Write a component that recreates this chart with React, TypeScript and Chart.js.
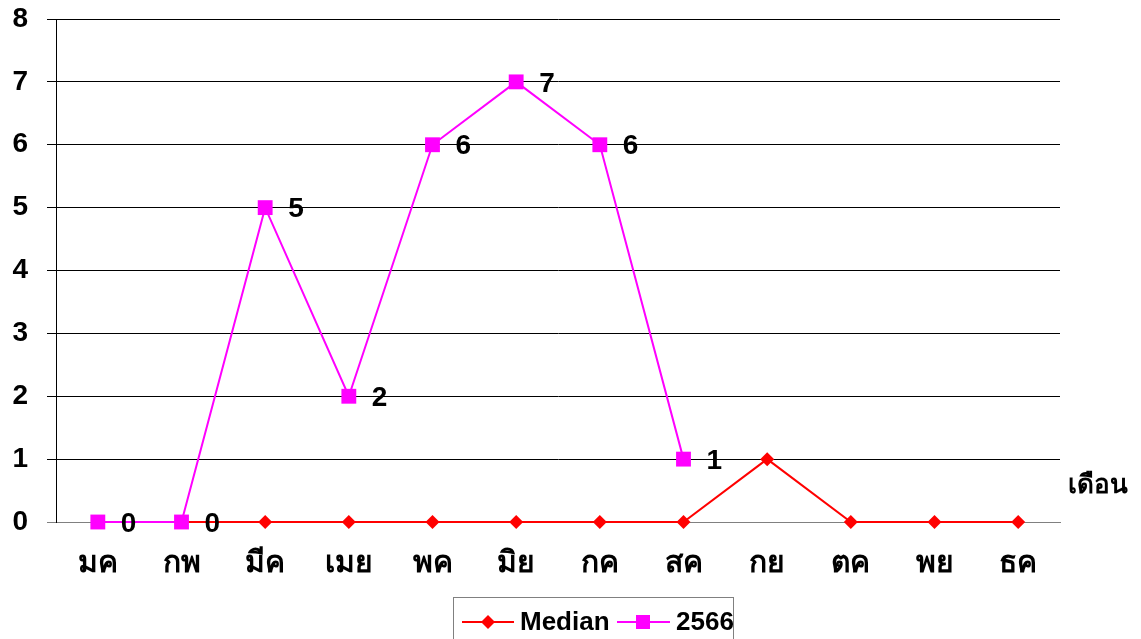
import React, { useEffect, useRef } from "react";
import { Chart, registerables } from "chart.js";

Chart.register(...registerables);

const months = ["มค", "กพ", "มีค", "เมย", "พค", "มิย", "กค", "สค", "กย", "ตค", "พย", "ธค"];
const medianValues = [0, 0, 0, 0, 0, 0, 0, 0, 1, 0, 0, 0];
const values2566: (number | null)[] = [0, 0, 5, 2, 6, 7, 6, 1, null, null, null, null];
const seriesNames = ["Median", "2566"];
const xAxisTitle = "เดือน";
const yMin = 0;
const yMax = 8;
const yStep = 1;

const FONT = "'Liberation Sans', Arial, 'DejaVu Sans', sans-serif";

const extrasPlugin = {
  id: "extras",
  afterDatasetsDraw(chart: any) {
    const ctx = chart.ctx;
    ctx.save();
    // data labels for 2566
    const meta = chart.getDatasetMeta(1);
    ctx.font = `bold 28px ${FONT}`;
    ctx.fillStyle = "#000";
    ctx.textAlign = "left";
    ctx.textBaseline = "middle";
    meta.data.forEach((pt: any, i: number) => {
      const v = values2566[i];
      if (v == null) return;
      ctx.fillText(String(v), pt.x + 23, pt.y + 2);
    });
    // axis title
    ctx.font = `bold 26px ${FONT}`;
    ctx.fillText(xAxisTitle, chart.chartArea.right + 8, chart.chartArea.bottom - 36);

    // legend
    const lx = 453.5;
    const ly = 597.5;
    ctx.strokeStyle = "#808080";
    ctx.lineWidth = 1;
    ctx.strokeRect(lx, ly, 280, 60);
    const cy = 622;
    // Median
    ctx.strokeStyle = "#FF0000";
    ctx.lineWidth = 2;
    ctx.beginPath();
    ctx.moveTo(462, cy);
    ctx.lineTo(514, cy);
    ctx.stroke();
    ctx.fillStyle = "#FF0000";
    ctx.beginPath();
    ctx.moveTo(488, cy - 7);
    ctx.lineTo(495, cy);
    ctx.lineTo(488, cy + 7);
    ctx.lineTo(481, cy);
    ctx.closePath();
    ctx.fill();
    ctx.fillStyle = "#000";
    ctx.font = `bold 26px ${FONT}`;
    ctx.textBaseline = "middle";
    ctx.fillText(seriesNames[0], 520, cy + 1);
    // 2566
    ctx.strokeStyle = "#FF00FF";
    ctx.beginPath();
    ctx.moveTo(617, cy);
    ctx.lineTo(670, cy);
    ctx.stroke();
    ctx.fillStyle = "#FF00FF";
    ctx.fillRect(636, cy - 7, 14, 14);
    ctx.fillStyle = "#000";
    ctx.fillText(seriesNames[1], 676, cy + 1);
    ctx.restore();
  },
};

export default function App() {
  const canvasRef = useRef<HTMLCanvasElement | null>(null);

  useEffect(() => {
    document.body.style.margin = "0";
    const canvas = canvasRef.current;
    if (!canvas) return;
    const chart = new Chart(canvas, {
      type: "line",
      data: {
        labels: months,
        datasets: [
          {
            label: seriesNames[0],
            data: medianValues,
            borderColor: "#FF0000",
            backgroundColor: "#FF0000",
            borderWidth: 2,
            pointStyle: "rectRot",
            pointRadius: 7,
            pointBorderWidth: 0,
            tension: 0,
            clip: false,
            order: 2,
          },
          {
            label: seriesNames[1],
            data: values2566,
            borderColor: "#FF00FF",
            backgroundColor: "#FF00FF",
            borderWidth: 2,
            pointStyle: "rect",
            pointRadius: 10.5,
            pointBorderWidth: 0,
            tension: 0,
            spanGaps: false,
            clip: false,
            order: 1,
          },
        ],
      },
      options: {
        animation: false,
        responsive: true,
        maintainAspectRatio: false,
        layout: { padding: { top: 19, right: 81, bottom: 0, left: 0 } },
        plugins: {
          legend: { display: false },
          tooltip: { enabled: false },
        },
        scales: {
          x: {
            type: "category",
            offset: true,
            grid: { display: false, drawTicks: false },
            border: { display: true, color: "#808080", width: 1 },
            ticks: {
              color: "#000",
              font: { family: FONT, size: 30, weight: "bold" },
              padding: 24,
              maxRotation: 0,
              autoSkip: false,
            },
            afterFit(scale: any) {
              scale.height = 117;
              scale.paddingLeft = 0;
              scale.paddingRight = 0;
            },
          },
          y: {
            min: yMin,
            max: yMax,
            ticks: {
              stepSize: yStep,
              color: "#000",
              font: { family: FONT, size: 28, weight: "bold" },
              padding: 19,
            },
            grid: {
              color: (c: any) => (c.tick && c.tick.value === 0 ? "#808080" : "#000"),
              lineWidth: 1,
              tickLength: 9,
            },
            border: { display: true, color: "#000", width: 1 },
            afterFit(scale: any) {
              scale.width = 56;
              scale.paddingTop = 0;
              scale.paddingBottom = 0;
            },
          },
        },
      },
      plugins: [extrasPlugin],
    });
    return () => chart.destroy();
  }, []);

  return (
    <div style={{ position: "relative", width: 1141, height: 639 }}>
      <canvas ref={canvasRef} />
    </div>
  );
}
